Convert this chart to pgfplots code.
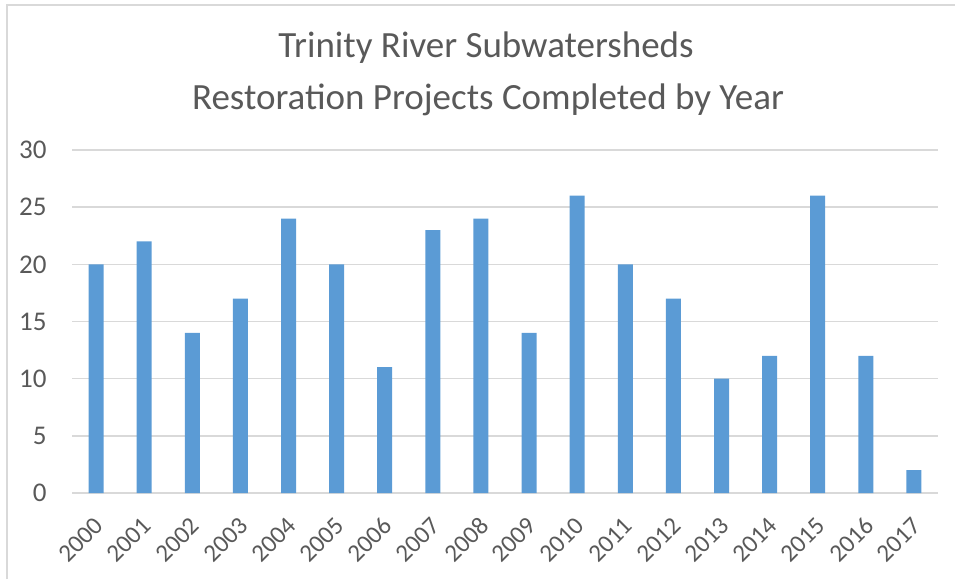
\documentclass[border=0pt]{standalone}
\usepackage{pgfplots}
\pgfplotsset{compat=1.18}
\usepackage{fontspec}
\setmainfont{Carlito}
\definecolor{barblue}{HTML}{5B9BD5}
\definecolor{txt}{HTML}{595959}
\definecolor{gridc}{HTML}{D9D9D9}
\begin{document}
\begin{tikzpicture}[x=1pt,y=1pt]
\useasboundingbox (0,0) rectangle (955,579);
\draw[gridc, line width=1.5pt] (7,0) -- (7,574) -- (955,574);
\node[txt, font=\fontsize{37}{44}\selectfont] at (486,531) {Trinity River Subwatersheds};
\node[txt, font=\fontsize{37}{44}\selectfont] at (488,479) {Restoration Projects Completed by Year};
\begin{axis}[
  at={(72pt,86pt)}, anchor=south west,
  scale only axis, width=866pt, height=343pt,
  xmin=-0.5, xmax=17.5, ymin=0, ymax=30,
  ytick={0,5,...,30},
  xtick=data,
  xticklabels={2000,2001,2002,2003,2004,2005,2006,2007,2008,2009,2010,2011,2012,2013,2014,2015,2016,2017},
  x tick label style={rotate=45, anchor=north east, font=\fontsize{25}{30}\selectfont, text=txt, inner sep=2pt},
  y tick label style={font=\fontsize{27}{32}\selectfont, text=txt},
  /pgf/number format/assume math mode=true,
  ymajorgrids, grid style={gridc, line width=1.5pt},
  axis lines*=left,
  axis line style={draw=none},
  major tick length=0pt,
  yticklabel style={xshift=-22pt},
  xticklabel style={yshift=-12pt, xshift=-16pt},
]
\addplot[ybar, bar width=15pt, fill=barblue, draw=none] coordinates {
(0,20) (1,22) (2,14) (3,17) (4,24) (5,20) (6,11) (7,23) (8,24) (9,14) (10,26) (11,20) (12,17) (13,10) (14,12) (15,26) (16,12) (17,2)};
\end{axis}
\end{tikzpicture}
\end{document}
